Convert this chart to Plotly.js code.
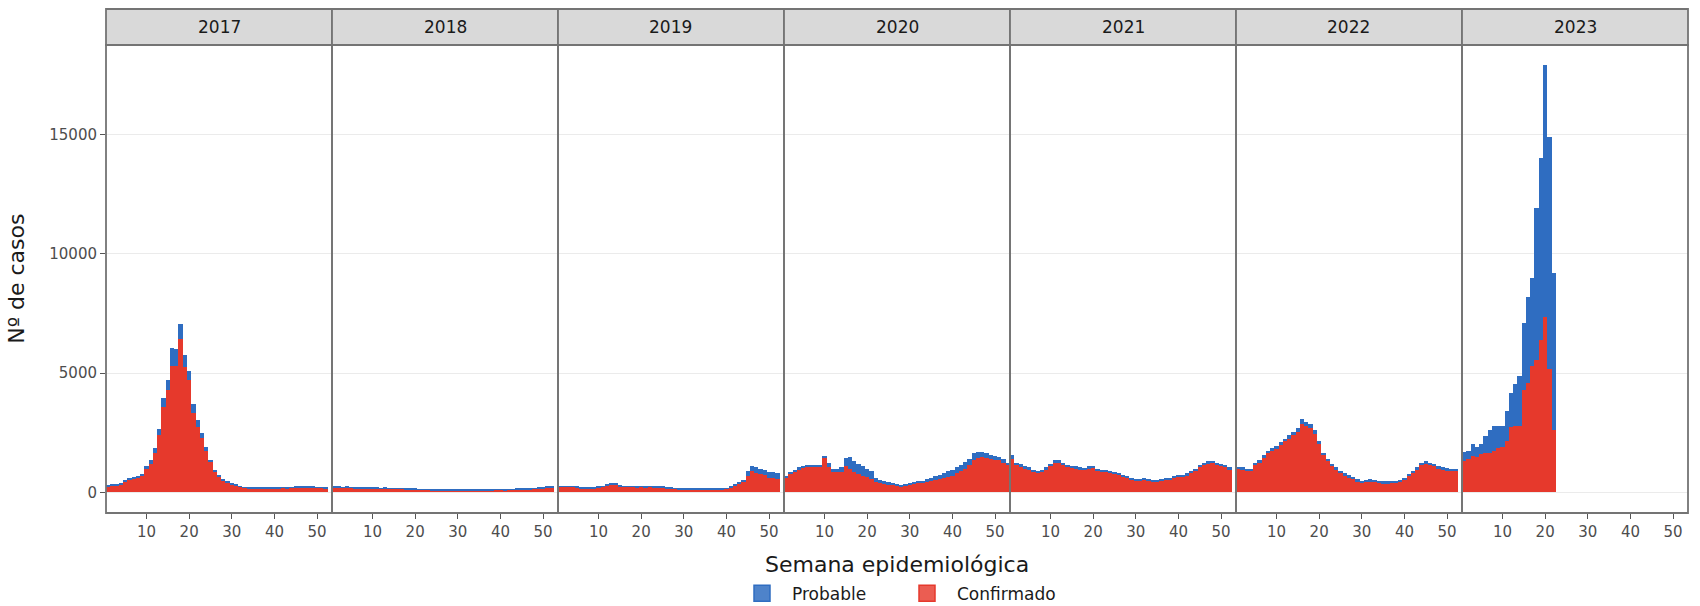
<!DOCTYPE html>
<html>
<head>
<meta charset="utf-8">
<script src="https://cdn.plot.ly/plotly-3.0.1.min.js"></script>
<style>
  body { margin: 0; background: #fff; }
  #chart { width: 1700px; height: 606px; }
</style>
</head>
<body>
<div id="chart"></div>
<script>
var years = ['2017', '2018', '2019', '2020', '2021', '2022', '2023'];
var xTicks = [10, 20, 30, 40, 50];
var yTicks = [0, 5000, 10000, 15000];

// casos por semana epidemiológica
var conf2017 = [270,290,300,350,440,530,570,620,680,980, 1200,1650,2400,3600,4300,5300,5300,6450,5250,4700,
  3350,2750,2300,1750,1280,890,650,520,420,350, 310,250,190,180,170,170,170,180,180,170,
  180,190,170,200,210,215,205,215,205,195, 195,185];
var prob2017 = [30,30,40,50,60,70,80,80,100,120, 150,200,250,350,400,750,700,630,500,370,
  350,300,200,150,100,70,50,40,30,30, 30,20,20,20,20,20,20,20,20,20,
  20,20,20,20,20,25,25,25,25,25, 25,25];

var conf2018 = [200,210,190,200,190,180,170,180,170,160, 170,160,170,160,150,160,150,140,130,130,
  120,110,110,100,100,100,90,90,90,90, 90,90,90,90,90,100,100,100,110,110,
  100,110,110,120,120,130,140,150,170,180, 200,210];
var prob2018 = [30,30,30,30,30,30,30,30,30,30, 20,20,20,20,20,20,20,20,20,20,
  20,20,20,20,20,20,20,20,20,20, 20,20,20,20,20,20,20,20,20,20,
  30,30,30,30,30,30,30,30,30,30, 30,30];

var conf2019 = [230,240,240,230,220,180,170,170,180,200, 230,310,330,320,270,240,230,230,220,230,
  220,230,220,210,210,170,160,150,140,140, 140,140,130,130,130,140,140,130,140,150,
  220,290,380,480,680,900,800,760,740,620, 600,580];
var prob2019 = [30,30,30,30,30,30,30,30,30,30, 30,40,40,40,30,30,30,30,30,30,
  30,30,30,30,30,30,30,30,30,30, 30,30,30,30,30,30,30,30,30,30,
  40,40,40,40,220,200,250,240,220,250, 240,240];

var conf2020 = [600,780,870,960,1010,1060,1070,1080,1080,1450, 1050,850,850,870,1100,1000,850,780,700,650,
  580,420,380,350,320,300,280,270,280,350, 380,420,430,460,500,540,580,600,650,700,
  800,900,1000,1150,1350,1450,1500,1450,1400,1350, 1350,1250,1150];
var prob2020 = [100,70,80,90,90,90,80,70,90,80, 200,150,150,180,350,480,470,420,400,350,
  300,180,140,120,120,100,50,30,40,50, 50,50,70,90,100,140,160,200,230,250,
  250,250,280,250,300,250,200,200,150,180, 150,150,100];

var conf2021 = [1400,1170,1100,1020,970,870,820,870,970,1120, 1270,1270,1170,1070,1040,1020,980,950,1020,1040,
  940,890,880,840,790,740,690,620,560,520, 500,540,500,460,470,500,540,560,620,660,
  670,720,820,920,1070,1170,1220,1250,1170,1120, 1070,970];
var prob2021 = [150,80,80,80,80,80,80,80,80,80, 80,80,80,80,80,80,80,80,80,80,
  60,60,60,60,60,60,60,60,60,60, 60,60,60,60,60,60,60,60,60,60,
  80,80,80,80,80,80,80,80,80,80, 80,80];

var conf2022 = [980,960,900,880,1140,1240,1440,1640,1740,1840, 1990,2140,2250,2400,2550,2890,2800,2700,2450,2050,
  1550,1300,1100,950,800,700,620,550,460,400, 440,480,460,400,390,390,400,400,440,540,
  700,820,970,1150,1200,1150,1120,1020,970,940, 920,900];
var prob2022 = [100,100,100,100,110,110,110,110,110,110, 110,110,150,150,150,180,150,150,150,100,
  100,100,100,100,100,100,100,100,100,100, 80,80,80,80,80,80,80,80,80,80,
  80,80,80,100,100,100,80,80,80,80, 80,80];

var conf2023 = [1340,1400,1540,1500,1600,1650,1650,1750,1850,1900, 2150,2750,2780,2800,4300,4600,5280,5560,6400,7350,
  5170,2600];
var prob2023 = [360,350,510,400,450,700,950,1050,950,900, 1250,1400,1770,2100,2800,3600,3720,6340,7600,10550,
  9730,6600];

var confirmado = [conf2017, conf2018, conf2019, conf2020, conf2021, conf2022, conf2023];
var probable = [prob2017, prob2018, prob2019, prob2020, prob2021, prob2022, prob2023];

var azul = '#2F6DC1';
var rojo = '#E6392C';
var gris = '#747474';
var fuente = 'DejaVu Sans';

function semanas(n) {
  var s = [];
  for (var i = 1; i <= n; i++) s.push(i);
  return s;
}

var data = [];
var layout = {
  width: 1700,
  height: 606,
  margin: {l: 106, r: 12, t: 9, b: 93, autoexpand: false},
  paper_bgcolor: '#fff',
  plot_bgcolor: '#fff',
  barmode: 'stack',
  bargap: 0,
  showlegend: true,
  legend: {
    orientation: 'h',
    x: 0.5, xanchor: 'center',
    y: -0.16, yanchor: 'middle',
    entrywidth: 100, entrywidthmode: 'pixels',
    itemwidth: 50,
    font: {family: fuente, size: 17, color: '#1a1a1a'}
  },
  font: {family: fuente},
  shapes: [],
  annotations: []
};

var yTop = 468 / 504;
var ancho = 1 / years.length;

for (var k = 0; k < years.length; k++) {
  var xa = k === 0 ? 'x' : 'x' + (k + 1);
  var key = k === 0 ? 'xaxis' : 'xaxis' + (k + 1);
  var x = semanas(confirmado[k].length);

  data.push({
    type: 'bar', name: 'Confirmado', x: x, y: confirmado[k],
    xaxis: xa, yaxis: 'y',
    marker: {color: rojo, line: {width: 0}},
    legendgroup: 'c', showlegend: false,
    hoverinfo: 'x+y+name'
  });
  data.push({
    type: 'bar', name: 'Probable', x: x, y: probable[k],
    xaxis: xa, yaxis: 'y',
    marker: {color: azul, line: {width: 0}},
    legendgroup: 'p', showlegend: false,
    hoverinfo: 'x+y+name'
  });

  var d0 = k * ancho, d1 = (k + 1) * ancho;
  layout[key] = {
    domain: [d0, d1],
    anchor: 'y',
    range: [0.5, 53.5],
    tickvals: xTicks,
    ticks: 'outside', ticklen: 5, tickcolor: '#555', tickwidth: 1.2,
    tickfont: {family: fuente, size: 15, color: '#4d4d4d'},
    showgrid: false, zeroline: false, showline: false,
    fixedrange: true
  };

  // marco del panel
  layout.shapes.push({
    type: 'rect', xref: 'paper', yref: 'paper',
    x0: d0, x1: d1, y0: 0, y1: yTop,
    line: {color: gris, width: 1.8}, fillcolor: 'rgba(0,0,0,0)', layer: 'above'
  });
  // franja del año
  layout.shapes.push({
    type: 'rect', xref: 'paper', yref: 'paper',
    x0: d0, x1: d1, y0: yTop, y1: 1,
    line: {color: gris, width: 1.8}, fillcolor: '#d9d9d9', layer: 'below'
  });
  layout.annotations.push({
    xref: 'paper', yref: 'paper', x: (d0 + d1) / 2, y: (yTop + 1) / 2,
    text: years[k], showarrow: false, xanchor: 'center', yanchor: 'middle',
    font: {family: fuente, size: 17, color: '#1a1a1a'}
  });
}

// entradas de la leyenda (sin datos propios)
data.push({
  type: 'scatter', mode: 'markers', name: 'Probable', x: [null], y: [null],
  marker: {symbol: 'square', size: 20, color: 'rgba(47,109,193,0.85)', line: {color: azul, width: 1.5}},
  legendgroup: 'p', legendrank: 1, hoverinfo: 'skip'
});
data.push({
  type: 'scatter', mode: 'markers', name: 'Confirmado', x: [null], y: [null],
  marker: {symbol: 'square', size: 20, color: 'rgba(230,57,44,0.82)', line: {color: rojo, width: 1.5}},
  legendgroup: 'c', legendrank: 2, hoverinfo: 'skip'
});

layout.yaxis = {
  domain: [0, yTop],
  anchor: 'x',
  range: [-860, 18750],
  tickvals: yTicks,
  ticktext: yTicks.map(String),
  ticks: 'outside', ticklen: 5, tickcolor: '#555', tickwidth: 1.2,
  tickfont: {family: fuente, size: 15, color: '#4d4d4d'},
  showgrid: true, gridcolor: '#ebebeb', gridwidth: 1,
  zeroline: false, showline: false,
  fixedrange: true
};

layout.annotations.push({
  xref: 'paper', yref: 'paper', x: 0.5, y: -0.103,
  text: 'Semana epidemiológica', showarrow: false,
  xanchor: 'center', yanchor: 'middle',
  font: {family: fuente, size: 22, color: '#1a1a1a'}
});
layout.annotations.push({
  xref: 'paper', yref: 'paper', x: -0.057, y: yTop / 2,
  text: 'Nº de casos', showarrow: false, textangle: -90,
  xanchor: 'center', yanchor: 'middle',
  font: {family: fuente, size: 22, color: '#1a1a1a'}
});

Plotly.newPlot('chart', data, layout, {displayModeBar: false, responsive: false});
</script>
</body>
</html>
